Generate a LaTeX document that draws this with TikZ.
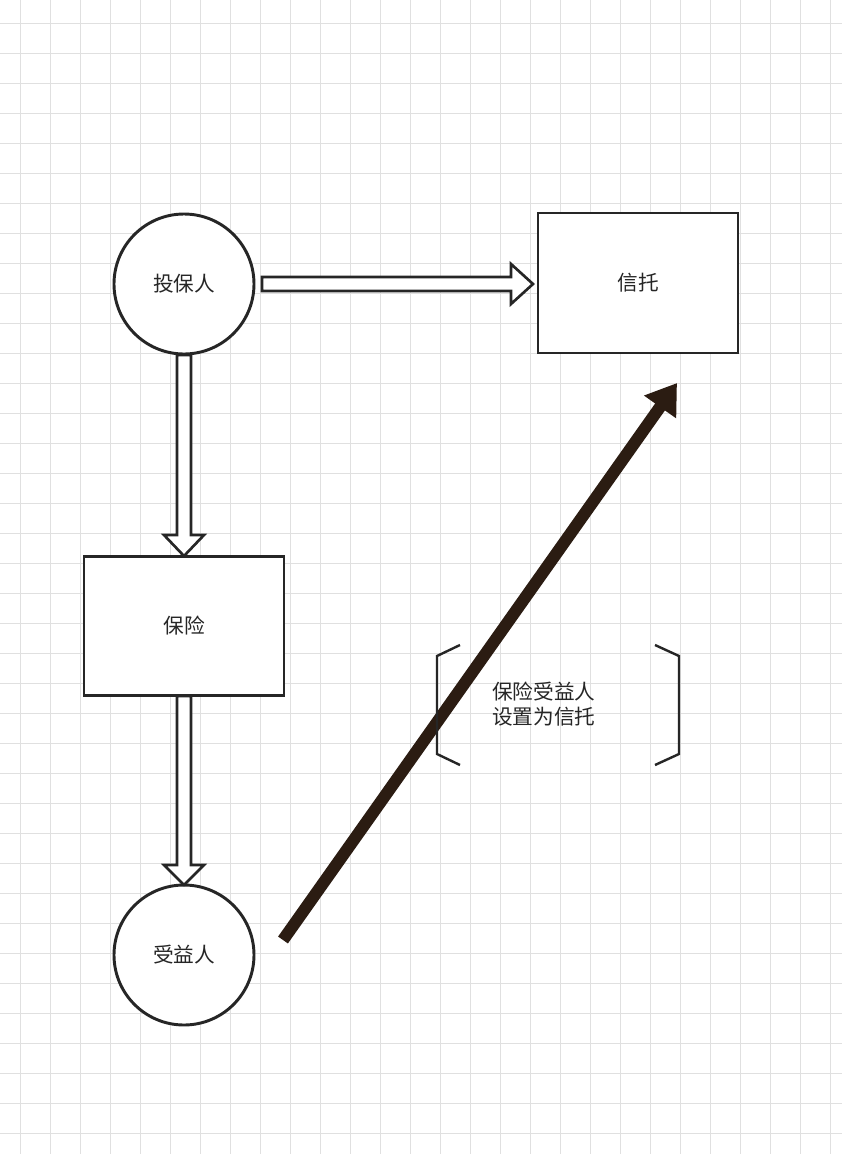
\documentclass[tikz,border=0pt]{standalone}
\usepackage{fontspec}
\setmainfont{Noto Sans CJK SC}
\usetikzlibrary{arrows.meta}
\begin{document}
\begin{tikzpicture}[x=0.75pt,y=-0.75pt,
  shape line/.style={draw=black!85,line width=2.2pt},
  hollow/.style={draw=black!85,line width=2pt,fill=white,line join=miter},
  lbl/.style={font=\fontsize{15.5}{19}\selectfont,text=black!85}]
\fill[white] (0,0) rectangle (842,1154);
\useasboundingbox (0,0) rectangle (842,1154);
\foreach \i in {0,...,27} \draw[black!12,line width=0.6pt] (20+\i*30,0) -- (20+\i*30,1154);
\foreach \i in {0,...,38} \draw[black!12,line width=0.6pt] (0,23+\i*30) -- (842,23+\i*30);
\node[shape line,circle,minimum size=105pt,fill=white,lbl] (tb) at (184,284) {投保人};
\node[shape line,circle,minimum size=105pt,fill=white,lbl] (syr) at (184,955) {受益人};
\node[shape line,rectangle,minimum width=150pt,minimum height=105pt,fill=white,lbl] (xt) at (638,283) {信托};
\node[shape line,rectangle,minimum width=150pt,minimum height=104pt,fill=white,lbl] (bx) at (184,626) {保险};
% hollow arrows
\draw[hollow] (262,277) -- (511,277) -- (511,264) -- (533,284) -- (511,304) -- (511,291) -- (262,291) -- cycle;
\draw[hollow] (177,355) -- (177,535) -- (164,535) -- (184,556) -- (204,535) -- (191,535) -- (191,355) -- cycle;
\draw[hollow] (177,696) -- (177,865) -- (164,865) -- (184,885) -- (204,865) -- (191,865) -- (191,696) -- cycle;
% dark arrow
\coordinate (s) at (283,940);
\coordinate (e) at (677,383);
\draw[color={rgb,255:red,43;green,28;blue,18},line width=9pt,-{Triangle[length=22pt,width=28pt]}] (s) -- (e);
% brackets
\draw[black!85,line width=1.8pt] (460,645) -- (437,656) -- (437,754) -- (460,765);
\draw[black!85,line width=1.8pt] (655,645) -- (679,656) -- (679,754) -- (655,765);
\node[lbl,align=left,anchor=west,inner sep=0pt] (note) at (492,704) {保险受益人\\设置为信托};
\end{tikzpicture}
\end{document}
